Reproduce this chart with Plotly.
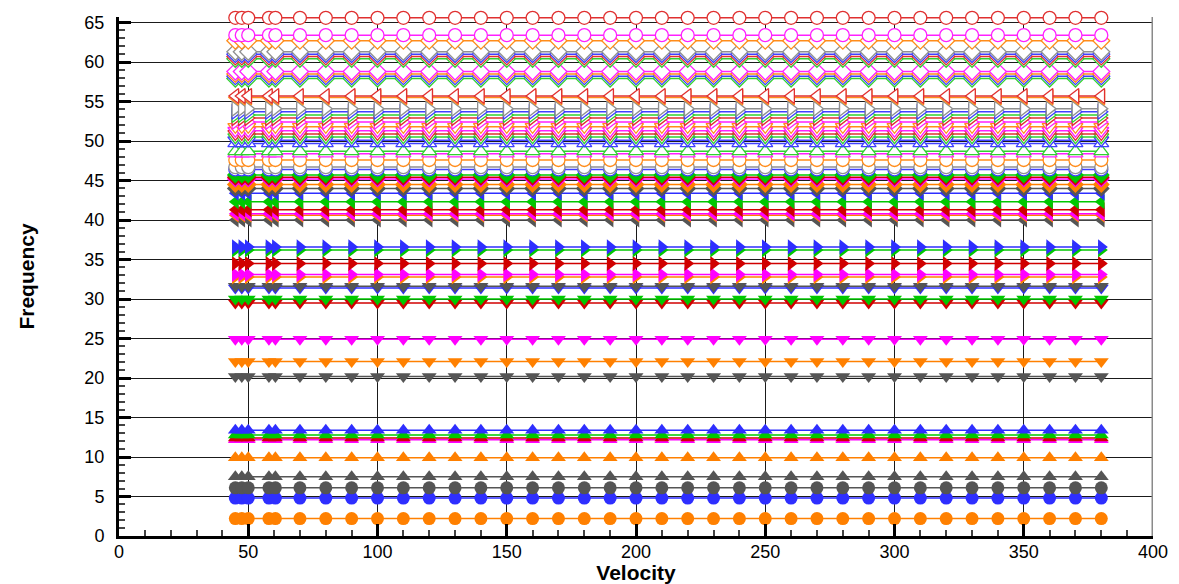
import plotly.graph_objects as go

# velocity stations (x)
velocity = [45, 47.5, 50, 58, 60.5, 70, 80, 90, 100, 110, 120, 130, 140, 150,
            160, 170, 180, 190, 200, 210, 220, 230, 240, 250, 260, 270, 280,
            290, 300, 310, 320, 330, 340, 350, 360, 370, 380]

# modal frequencies (flat over the velocity sweep), grouped by symbol family
freq_filled_circle = [2.2, 4.8, 6.1]
freq_filled_tri_up = [7.5, 9.9, 12.2, 12.4, 12.8, 13.4]
freq_filled_tri_down = [20.2, 22.1, 24.9, 29.5, 30.0, 31.4, 31.6]
freq_filled_tri_right = [32.8, 33.1, 34.5, 36.2, 36.6]
freq_filled_tri_left = [40.0, 40.6, 40.8, 41.3, 42.3, 43.4]
freq_filled_diamond = [44.0, 44.5, 45.2, 45.4, 45.7]
freq_open_circle = [46.4, 46.7, 47.6]
freq_open_tri_up = [48.4, 48.7, 49.7]
freq_open_tri_down = [50.1, 50.5, 50.9, 51.3, 51.8]
freq_open_tri_right = [52.4, 52.9, 53.3, 53.7, 54.1]
freq_open_tri_left = [55.5, 55.7]
freq_open_diamond = [57.9, 58.2, 58.5, 58.8, 60.4, 60.7, 61.0, 61.3, 62.7]
freq_open_circle_top = [63.4, 65.6]

# colour keys of each mode, same order as the frequencies
col_filled_circle = ['orange', 'blue', 'gray']
col_filled_tri_up = ['gray', 'orange', 'magenta', 'red', 'green', 'blue']
col_filled_tri_down = ['gray', 'orange', 'magenta', 'red', 'green', 'blue', 'gray']
col_filled_tri_right = ['orange', 'magenta', 'red', 'green', 'blue']
col_filled_tri_left = ['gray', 'orange', 'magenta', 'red', 'green', 'blue']
col_filled_diamond = ['gray', 'orange', 'magenta', 'red', 'green']
col_open_circle = ['blue', 'gray', 'orange']
col_open_tri_up = ['magenta', 'green', 'blue']
col_open_tri_down = ['blue', 'green', 'red', 'magenta', 'orange']
col_open_tri_right = ['magenta', 'red', 'green', 'blue', 'gray']
col_open_tri_left = ['orange', 'red']
col_open_diamond = ['green', 'blue', 'orange', 'magenta',
                    'green', 'red', 'blue', 'gray', 'orange']
col_open_circle_top = ['magenta', 'red']

palette = {
    'orange': '#FF8000',
    'blue': '#2E2EFF',
    'gray': '#555555',
    'red': '#D00000',
    'green': '#00C800',
    'magenta': '#FF00FF',
}
open_palette = {
    'orange': '#FF8C1A',
    'blue': '#4040FF',
    'gray': '#909090',
    'red': '#E03030',
    'green': '#30D030',
    'magenta': '#FF20FF',
}

groups = [
    (freq_filled_circle, col_filled_circle, 'circle', False),
    (freq_filled_tri_up, col_filled_tri_up, 'triangle-up', False),
    (freq_filled_tri_down, col_filled_tri_down, 'triangle-down', False),
    (freq_filled_tri_right, col_filled_tri_right, 'triangle-right', False),
    (freq_filled_tri_left, col_filled_tri_left, 'triangle-left', False),
    (freq_filled_diamond, col_filled_diamond, 'diamond', False),
    (freq_open_circle, col_open_circle, 'circle', True),
    (freq_open_tri_up, col_open_tri_up, 'triangle-up', True),
    (freq_open_tri_down, col_open_tri_down, 'triangle-down', True),
    (freq_open_tri_right, col_open_tri_right, 'triangle-right', True),
    (freq_open_tri_left, col_open_tri_left, 'triangle-left', True),
    (freq_open_diamond, col_open_diamond, 'diamond', True),
    (freq_open_circle_top, col_open_circle_top, 'circle', True),
]

fig = go.Figure()

for freqs, cols, symbol, is_open in groups:
    for f, c in zip(freqs, cols):
        if is_open:
            color = open_palette[c]
            marker = dict(symbol=symbol, size=13, color='white',
                          line=dict(color=color, width=1.3))
        else:
            color = palette[c]
            marker = dict(symbol=symbol, size=13, color=color, line_width=0)
        fig.add_trace(go.Scatter(
            x=velocity,
            y=[f] * len(velocity),
            mode='lines+markers',
            line=dict(color=color, width=1.5),
            marker=marker,
            cliponaxis=False,
            showlegend=False,
            hoverinfo='x+y',
        ))

# right frame line
fig.add_shape(type='line', xref='x', yref='paper', x0=400, x1=400, y0=0, y1=1,
              line=dict(color='#8A8A8A', width=3), layer='above')

tick_font = dict(family='Liberation Sans, Arial', size=18, color='black')
title_font = dict(family='Liberation Sans, Arial', size=21, color='black')

fig.update_xaxes(
    range=[0, 400],
    dtick=50,
    ticks='inside', ticklen=12, tickwidth=3, tickcolor='black',
    minor=dict(dtick=10, ticks='inside', ticklen=6, tickwidth=1.5,
               tickcolor='#444444', showgrid=False),
    showline=True, linewidth=3, linecolor='black',
    showgrid=True, gridcolor='#1a1a1a', gridwidth=1,
    zeroline=False,
    automargin=False,
    tickfont=tick_font,
    ticklabelstandoff=-3,
    title=dict(text='<b>Velocity</b>', font=title_font, standoff=5),
)
fig.update_yaxes(
    range=[0, 65.7],
    dtick=5,
    ticks='inside', ticklen=12, tickwidth=3, tickcolor='black',
    minor=dict(dtick=1, ticks='inside', ticklen=6, tickwidth=1.5,
               tickcolor='#444444', showgrid=False),
    showline=True, linewidth=3, linecolor='black',
    showgrid=True, gridcolor='#1a1a1a', gridwidth=1,
    zeroline=False,
    automargin=False,
    tickfont=tick_font,
    ticklabelstandoff=8,
    title=dict(text='<b>Frequency</b>', font=title_font, standoff=45),
)

# page body keeps an 8px margin, so the figure is 8px smaller each way
fig.update_layout(
    width=1171,
    height=576,
    plot_bgcolor='white',
    paper_bgcolor='white',
    margin=dict(l=111, r=26, t=9, b=48),
)

fig.write_html('out.html')
